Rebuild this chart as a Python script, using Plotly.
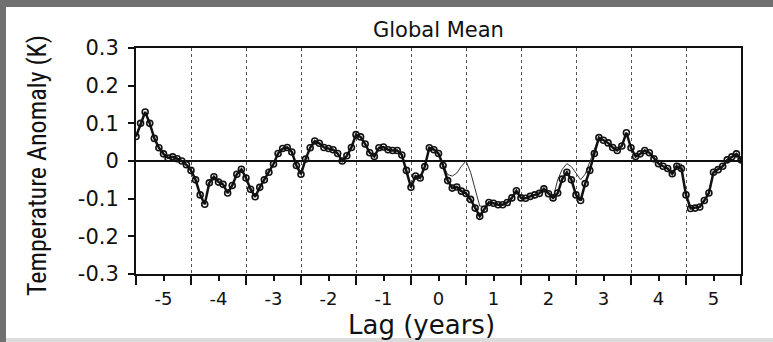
import plotly.graph_objects as go

# Lag in months, -5.5 to +5.5 years
lag_months = list(range(-66, 67))
lag_years = [m / 12 for m in lag_months]

# Global-mean temperature anomaly (K) vs lag, full record
global_mean = [
    0.065, 0.100, 0.130, 0.100, 0.060, 0.035,                                # -5.5 .. -5.08
    0.019, 0.008, 0.011, 0.006, 0.000, -0.010, -0.025, -0.050, -0.090, -0.115, -0.058, -0.042,
    -0.056, -0.062, -0.085, -0.065, -0.035, -0.022, -0.045, -0.075, -0.095, -0.070, -0.050, -0.030,
    -0.008, 0.020, 0.033, 0.036, 0.024, -0.012, -0.035, 0.005, 0.035, 0.053, 0.047, 0.036,
    0.033, 0.030, 0.020, 0.000, 0.014, 0.036, 0.070, 0.064, 0.045, 0.022, 0.012, 0.035,
    0.037, 0.030, 0.028, 0.028, 0.016, -0.025, -0.070, -0.040, -0.045, -0.015, 0.035, 0.030,
    0.020,                                                                     # 0
    -0.012, -0.052, -0.072, -0.069, -0.080, -0.086, -0.102, -0.125, -0.147, -0.128, -0.110, -0.112,
    -0.116, -0.116, -0.110, -0.098, -0.079, -0.098, -0.099, -0.094, -0.090, -0.086, -0.074, -0.087,
    -0.098, -0.085, -0.048, -0.030, -0.050, -0.090, -0.105, -0.060, -0.025, 0.020, 0.062, 0.055,
    0.048, 0.036, 0.028, 0.040, 0.075, 0.035, 0.012, 0.019, 0.028, 0.022, 0.006, -0.007,
    -0.014, -0.020, -0.034, -0.014, -0.020, -0.090, -0.126, -0.125, -0.122, -0.105, -0.085, -0.030,
    -0.023, -0.014, 0.003, 0.011, 0.019, 0.003,
]

# Companion curve (thin line)
global_mean_alt = [
    0.065, 0.100, 0.130, 0.100, 0.060, 0.035,
    0.019, 0.008, 0.011, 0.006, 0.000, -0.010, -0.025, -0.050, -0.090, -0.115, -0.058, -0.042,
    -0.056, -0.062, -0.085, -0.065, -0.035, -0.022, -0.045, -0.075, -0.095, -0.070, -0.050, -0.030,
    -0.008, 0.020, 0.033, 0.036, 0.024, -0.012, -0.035, 0.005, 0.035, 0.053, 0.047, 0.036,
    0.033, 0.030, 0.020, 0.000, 0.014, 0.036, 0.070, 0.064, 0.045, 0.022, 0.012, 0.035,
    0.037, 0.030, 0.028, 0.028, 0.016, -0.025, -0.070, -0.040, -0.045, -0.015, 0.035, 0.030,
    0.020,
    -0.010, -0.036, -0.040, -0.032, -0.014, 0.000, -0.030, -0.075, -0.120, -0.120, -0.110, -0.112,
    -0.116, -0.116, -0.110, -0.098, -0.079, -0.098, -0.099, -0.094, -0.090, -0.086, -0.074, -0.087,
    -0.098, -0.050, -0.022, -0.007, -0.015, -0.032, -0.050, -0.035, 0.000, 0.030, 0.062, 0.055,
    0.048, 0.036, 0.028, 0.040, 0.075, 0.035, 0.012, 0.019, 0.028, 0.022, 0.006, -0.007,
    -0.014, -0.020, -0.034, -0.008, -0.008, -0.090, -0.126, -0.125, -0.122, -0.105, -0.085, -0.030,
    -0.023, -0.014, 0.003, 0.011, 0.019, 0.003,
]

x_ticks = [-5, -4, -3, -2, -1, 0, 1, 2, 3, 4, 5]
x_grid = [-5.5, -4.5, -3.5, -2.5, -1.5, -0.5, 0.5, 1.5, 2.5, 3.5, 4.5, 5.5]
y_ticks = [-0.3, -0.2, -0.1, 0, 0.1, 0.2, 0.3]
y_ticktext = ["-0.3", "-0.2", "-0.1", "0", "0.1", "0.2", "0.3"]

INK = "#111111"
FONT = "DejaVu Sans, Liberation Sans, Arial, sans-serif"
NARROW = "Liberation Sans Narrow, Roboto Condensed, Liberation Sans, Arial, sans-serif"

fig = go.Figure()

fig.add_trace(go.Scatter(
    x=lag_years, y=global_mean_alt, mode="lines",
    line=dict(color="#333333", width=1), hoverinfo="skip", showlegend=False,
))
fig.add_trace(go.Scatter(
    x=lag_years, y=global_mean, mode="lines+markers",
    line=dict(color=INK, width=2.5),
    marker=dict(symbol="circle-open", size=6, color=INK, line=dict(width=1.6, color=INK)),
    showlegend=False,
))

fig.update_xaxes(
    range=[-5.5, 5.5],
    tickmode="array", tickvals=x_ticks, ticktext=[str(v) for v in x_ticks],
    ticks="outside", ticklen=5, tickwidth=2, tickcolor=INK,
    ticklabelstandoff=2,
    showgrid=False, zeroline=False,
    showline=True, linewidth=2, linecolor=INK, mirror=True,
    tickfont=dict(family=FONT, size=18, color=INK),
    minor=dict(tickmode="array", tickvals=x_grid, ticks="outside", ticklen=9,
               tickwidth=2, tickcolor=INK, showgrid=True, gridcolor="#555555",
               griddash="dot", gridwidth=1),
)
fig.update_yaxes(
    range=[-0.3, 0.3],
    tickmode="array", tickvals=y_ticks, ticktext=y_ticktext,
    ticks="outside", ticklen=6, tickwidth=2, tickcolor=INK,
    ticklabelstandoff=5,
    showgrid=False,
    zeroline=True, zerolinecolor=INK, zerolinewidth=2,
    showline=True, linewidth=2, linecolor=INK, mirror=True,
    tickfont=dict(family=FONT, size=21, color=INK),
)

# plot area spans x 136..741 px and y 48..274 px
L, R, T, B = 136, 32, 48, 68
W, H = 773, 342
PW, PH = W - L - R, H - T - B

def px_x(px):
    return (px - L) / PW

def px_y(py):
    return (H - B - py) / PH

annotations = [
    dict(text="Global Mean", x=px_x(438.5), y=px_y(30), xref="paper", yref="paper",
         xanchor="center", yanchor="middle", showarrow=False,
         font=dict(family=FONT, size=21, color=INK)),
    dict(text="Lag (years)", x=px_x(421), y=px_y(325), xref="paper", yref="paper",
         xanchor="center", yanchor="middle", showarrow=False,
         font=dict(family=FONT, size=26, color=INK)),
    dict(text="Temperature Anomaly (K)", x=px_x(37), y=px_y(166), xref="paper", yref="paper",
         xanchor="center", yanchor="middle", textangle=-90, showarrow=False,
         font=dict(family=NARROW, size=26, color=INK)),
]

# scanned page frame: dark edge on top and left, light strip at the bottom
shapes = [
    dict(type="rect", xref="paper", yref="paper", x0=px_x(0), x1=px_x(W), y0=px_y(7), y1=px_y(0),
         fillcolor="#707070", line=dict(width=0), layer="below"),
    dict(type="rect", xref="paper", yref="paper", x0=px_x(0), x1=px_x(6), y0=px_y(H), y1=px_y(0),
         fillcolor="#707070", line=dict(width=0), layer="below"),
    dict(type="rect", xref="paper", yref="paper", x0=px_x(6), x1=px_x(W), y0=px_y(H), y1=px_y(338),
         fillcolor="#dcdcdc", line=dict(width=0), layer="below"),
]

fig.update_layout(
    width=W, height=H,
    margin=dict(l=L, r=R, t=T, b=B, pad=0),
    paper_bgcolor="white", plot_bgcolor="white",
    annotations=annotations, shapes=shapes,
    showlegend=False,
)

fig.write_html("out.html")
